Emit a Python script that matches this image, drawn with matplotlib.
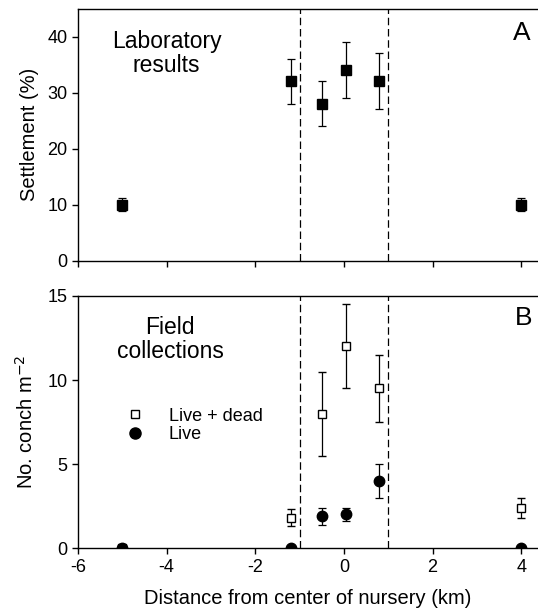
import matplotlib
matplotlib.use("Agg")
import matplotlib.pyplot as plt
from matplotlib.lines import Line2D

plt.rcParams.update({"font.family": ["Liberation Sans", "DejaVu Sans"],
                     "axes.linewidth": 1.0, "axes.unicode_minus": False})

# panel A: laboratory settlement (%)
lab_x = [-5, -1.2, -0.5, 0.05, 0.8, 4]
lab_y = [10, 32, 28, 34, 32, 10]
lab_err = [1.2, 4, 4, 5, 5, 1.2]

# panel B: field collections (no. conch m-2)
ld_x = [-5, -1.2, -0.5, 0.05, 0.8, 4]
ld_y = [0, 1.8, 8, 12, 9.5, 2.4]
ld_err = [0, 0.5, 2.5, 2.5, 2.0, 0.6]
live_x = [-5, -1.2, -0.5, 0.05, 0.8, 4]
live_y = [0, 0, 1.9, 2.0, 4.0, 0]
live_err = [0, 0, 0.5, 0.4, 1.0, 0]

nursery_edges = [-1, 1]
x_ticks = [-6, -4, -2, 0, 2, 4]

fig = plt.figure(figsize=(5.38, 6.09), dpi=100)
axA = fig.add_axes([0.145, 0.572, 0.855, 0.414])
axB = fig.add_axes([0.145, 0.100, 0.855, 0.414])

for ax in (axA, axB):
    ax.set_xlim(-6, 4.38)
    ax.spines["right"].set_visible(False)
    ax.set_xticks(x_ticks)
    ax.tick_params(direction="out", length=4, width=1, labelsize=13)
    for xe in nursery_edges:
        ax.axvline(xe, color="black", lw=0.9, ls=(0, (6, 3)), zorder=1)

axA.errorbar(lab_x, lab_y, yerr=lab_err, fmt="s", ms=6.5, mfc="black",
             mec="black", ecolor="black", elinewidth=0.9, capsize=3,
             capthick=0.9, zorder=3)
axA.set_ylim(0, 45)
axA.set_yticks([0, 10, 20, 30, 40])
axA.set_xticklabels([])
axA.set_ylabel("Settlement (%)", fontsize=14.5, labelpad=6)
axA.text(-4.0, 36.9, "Laboratory\nresults", ha="center", va="center",
         fontsize=16.5, linespacing=1.05)
axA.text(4.02, 40.6, "A", ha="center", va="center", fontsize=19)

axB.errorbar(ld_x, ld_y, yerr=ld_err, fmt="s", ms=6, mfc="white",
             mec="black", mew=1.0, ecolor="black", elinewidth=0.9,
             capsize=3, capthick=0.9, zorder=3)
axB.errorbar(live_x, live_y, yerr=live_err, fmt="o", ms=7.5, mfc="black",
             mec="black", ecolor="black", elinewidth=0.9, capsize=3,
             capthick=0.9, zorder=4)
axB.set_ylim(0, 15)
axB.set_yticks([0, 5, 10, 15])
axB.set_ylabel("No. conch m$^{-2}$", fontsize=14.5, labelpad=8)
axB.set_xlabel("Distance from center of nursery (km)", fontsize=14.5, labelpad=10)
axB.text(-3.92, 12.4, "Field\ncollections", ha="center", va="center",
         fontsize=16.5, linespacing=1.05)
axB.text(4.05, 13.7, "B", ha="center", va="center", fontsize=19)

handles = [Line2D([], [], ls="none", marker="s", ms=6, mfc="white", mec="black"),
           Line2D([], [], ls="none", marker="o", ms=8, mfc="black", mec="black")]
axB.legend(handles, ["Live + dead", "Live"], loc="upper left",
           bbox_to_anchor=(0.08, 0.60), frameon=False, fontsize=13,
           handlelength=1.0, handletextpad=1.4, labelspacing=0.1,
           borderpad=0.1)

fig.savefig("out.png", dpi=100, facecolor="white")
